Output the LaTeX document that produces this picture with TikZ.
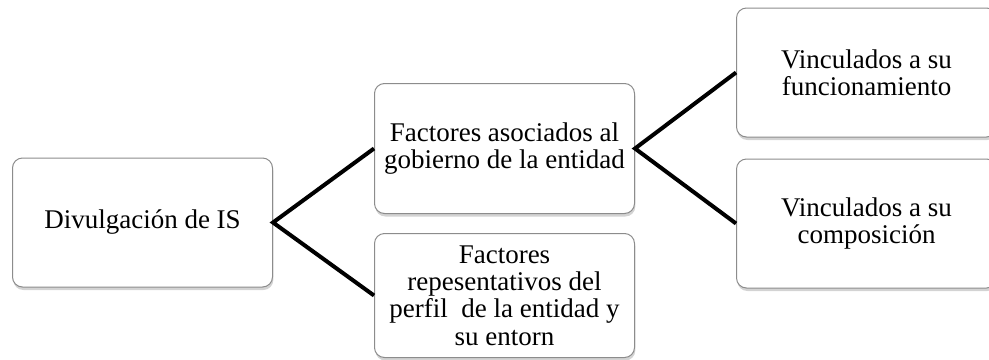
\documentclass[tikz,border=0pt]{standalone}
\usepackage{fontspec}
\setmainfont{Liberation Serif}
\usetikzlibrary{shadows}
\tikzstyle{factorbox} = [rectangle, rounded corners=5pt,
minimum width=130pt,
minimum height=64.5pt,
align=center,
font=\fontsize{13.5}{13.7}\selectfont,
draw=black!45, line width=0.5pt,
fill=white,
drop shadow={opacity=0.35, shadow xshift=0.4pt, shadow yshift=-1.5pt}]
\tikzstyle{link} = [line width=2pt, black]

\begin{document}
\begin{tikzpicture}[node distance=181pt]
\clip (0,0) rectangle (494.5pt,-179.5pt);

\node (divul) [factorbox] at (71.25pt,-111.25pt) {Divulgación de IS};

\node (gobierno) [factorbox, right of=divul, yshift=37pt, minimum height=65pt] {Factores asociados al\\gobierno de la entidad};

\node (perfil) [factorbox, right of=divul, yshift=-36.5pt, minimum height=62pt] {Factores\\repesentativos del\\perfil\ \ de la entidad y\\su entorn};

\node (funcion) [factorbox, right of=gobierno, yshift=38pt] {Vinculados a su\\funcionamiento};

\node (compos) [factorbox, right of=gobierno, yshift=-37.5pt] {Vinculados a su\\composición};


\draw [link] (gobierno.west) -- (divul.east) -- (perfil.west);

\draw [link] (funcion.west) -- (gobierno.east) -- (compos.west);

\end{tikzpicture}
\end{document}
